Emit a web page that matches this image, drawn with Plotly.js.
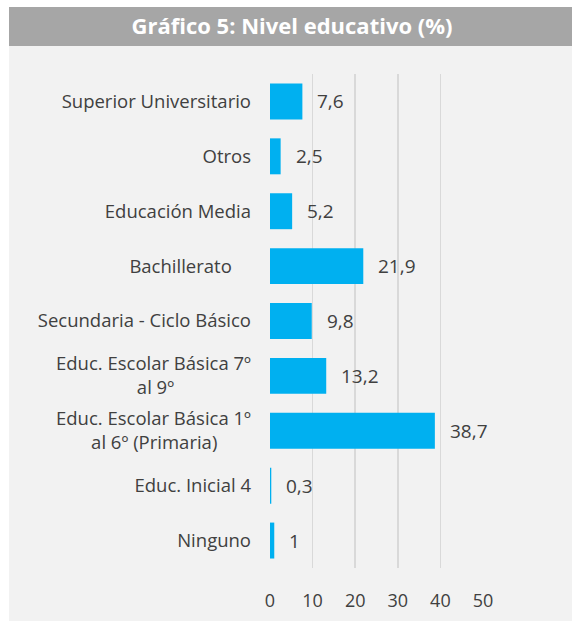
<!DOCTYPE html>
<html>
<head>
<meta charset="utf-8">
<script src="https://cdn.plot.ly/plotly-3.0.1.min.js"></script>
<style>
  html, body { margin: 0; padding: 0; background: #ffffff; }
  #chart { width: 572px; height: 621px; }
</style>
</head>
<body>
<div id="chart"></div>
<script>
// Categories (top to bottom as in the reference); multi-line ones as [line1, line2]
const categoryLines = [
  ["Superior Universitario"],
  ["Otros"],
  ["Educación Media"],
  ["Bachillerato"],
  ["Secundaria - Ciclo Básico"],
  ["Educ. Escolar Básica 7º", "al 9º"],
  ["Educ. Escolar Básica 1º", "al 6º (Primaria)"],
  ["Educ. Inicial 4"],
  ["Ninguno"]
];
const values = [7.6, 2.5, 5.2, 21.9, 9.8, 13.2, 38.7, 0.3, 1];
const valueLabels = ["7,6", "2,5", "5,2", "21,9", "9,8", "13,2", "38,7", "0,3", "1"];
const xTicks = [0, 10, 20, 30, 40, 50];
const chartTitle = "Gráfico 5: Nivel educativo (%)";

const W = 572, H = 621;
const L = 270, R = 89, T = 74, B = 53;
const pw = W - L - R, ph = H - T - B;
const px = v => (v - L) / pw;
const py = v => (H - B - v) / ph;

const FONT = "Open Sans, sans-serif";
const TXT = "#404040";
const YSIZE = 18.5;

// center multi-line tick labels by padding shorter lines with non-breaking spaces
const cv = document.createElement("canvas").getContext("2d");
cv.font = YSIZE + "px 'Open Sans'";
const nbW = cv.measureText("\u00a0").width || YSIZE * 0.26;
const pad = n => "\u00a0".repeat(Math.max(0, n));
const categories = categoryLines.map(lines => {
  if (lines.length === 1) {
    return lines[0] === "Bachillerato" ? lines[0] + pad(4) : lines[0];
  }
  const w1 = cv.measureText(lines[0]).width;
  return lines.map(s => s + pad(Math.round((w1 - cv.measureText(s).width) / 2 / nbW))).join("<br>");
});

const trace = {
  type: "bar",
  orientation: "h",
  x: values,
  y: categories,
  marker: { color: "#00b0f0" },
  hoverinfo: "none"
};

const annotations = values.map((v, i) => ({
  x: v, y: categories[i], xref: "x", yref: "y",
  text: valueLabels[i], showarrow: false,
  xanchor: "left", yanchor: "middle", xshift: 13,
  font: { family: FONT, size: 19, color: TXT }
}));

const layout = {
  width: W, height: H,
  margin: { l: L, r: R, t: T, b: B, pad: 0 },
  paper_bgcolor: "#ffffff",
  plot_bgcolor: "rgba(0,0,0,0)",
  showlegend: false,
  bargap: 0.345,
  title: {
    text: chartTitle,
    xref: "container", yref: "container",
    x: 292 / W, xanchor: "center",
    y: 1 - 26.5 / H, yanchor: "middle",
    font: { family: FONT, size: 22, color: "#ffffff", weight: "bold" }
  },
  xaxis: {
    range: [0, 50],
    tickvals: xTicks,
    ticktext: xTicks.map(String),
    showgrid: true, gridcolor: "#d9d9d9", gridwidth: 1.5,
    zeroline: false, showline: false,
    ticks: "", ticklabelstandoff: 20,
    tickfont: { family: FONT, size: 18, color: TXT },
    fixedrange: true
  },
  yaxis: {
    type: "category",
    autorange: "reversed",
    showgrid: false, zeroline: false, showline: false,
    ticks: "", ticklabelstandoff: 18,
    tickfont: { family: FONT, size: YSIZE, color: TXT },
    fixedrange: true
  },
  shapes: [
    { type: "rect", xref: "paper", yref: "paper", layer: "below",
      x0: px(9), x1: px(572), y0: py(621), y1: py(46),
      fillcolor: "#f2f2f2", line: { width: 0 } },
    { type: "rect", xref: "paper", yref: "paper", layer: "below",
      x0: px(9), x1: px(572), y0: py(46), y1: py(7),
      fillcolor: "#a6a6a6", line: { width: 0 } }
  ],
  annotations: annotations
};

Plotly.newPlot("chart", [trace], layout, { displayModeBar: false, staticPlot: true });
</script>
</body>
</html>
